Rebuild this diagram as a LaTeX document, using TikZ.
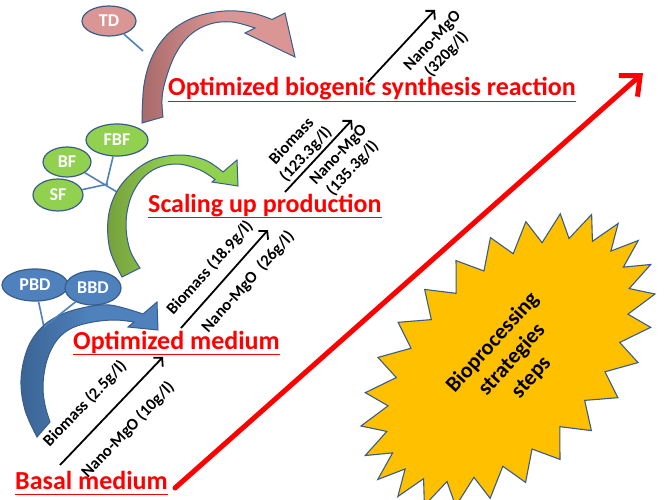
\documentclass[tikz,border=0pt]{standalone}
\usepackage{fontspec}
\setmainfont{Carlito}
\usetikzlibrary{shapes.geometric,arrows.meta}
\definecolor{pinkL}{HTML}{D99694}
\definecolor{pinkD}{HTML}{A86A6A}
\definecolor{greenL}{HTML}{92D050}
\definecolor{greenD}{HTML}{76A03C}
\definecolor{blueL}{HTML}{4F81BD}
\definecolor{blueD}{HTML}{3A6494}
\definecolor{edgeblue}{HTML}{385D8A}
\definecolor{starY}{HTML}{FFC000}
\definecolor{redT}{HTML}{FF0000}
\begin{document}
\begin{tikzpicture}[x=1pt,y=-1pt,
  bubble/.style={ellipse, draw=edgeblue, line width=1.2pt, inner sep=0pt, text=white, font=\fontsize{18}{20}\selectfont\bfseries},
  stem/.style={draw=blueL, line width=1.6pt},
  curvedarrow/.style={draw=edgeblue, line width=1pt, line join=miter},
  steptitle/.style={text=redT, inner sep=0pt, font=\fontsize{26}{30}\selectfont\bfseries, anchor=base west},
  uline/.style={draw=redT, line width=1.8pt},
  growth/.style={draw=black, line width=1.8pt, -{Straight Barb[length=6pt,width=13pt,line width=1.8pt]}},
  qty/.style={font=\fontsize{16.5}{19.5}\selectfont\bfseries, align=center, inner sep=0pt},
]
\useasboundingbox[fill=white] (0,0) rectangle (666,500);

% junction coordinates
\coordinate (tdj) at (143,51);
\coordinate (fj1) at (106,186);
\coordinate (fj2) at (117,192);
\coordinate (fj3) at (108,184);
\coordinate (bj) at (44,327);

% ellipse nodes (positions)
\path node[bubble, fill=pinkL, minimum width=54pt, minimum height=30pt] (td) at (109,21) {TD};
\path node[bubble, fill=greenL, minimum width=62pt, minimum height=32pt] (fbf) at (117,140) {FBF};
\path node[bubble, fill=greenL, minimum width=48pt, minimum height=30pt] (bf) at (67,162) {BF};
\path node[bubble, fill=greenL, minimum width=50pt, minimum height=32pt] (sf) at (58,195) {SF};
\path node[bubble, fill=blueL, minimum width=66pt, minimum height=32pt] (pbd) at (35,285) {PBD};

% stems
\draw[stem] (td) -- (tdj);
\draw[stem] (fbf) -- (fj1);
\draw[stem] (bf) -- (fj2);
\draw[stem] (sf) -- (fj3);
\draw[stem] (pbd) -- (bj);

% pink curved arrow
\draw[curvedarrow, left color=pinkD, right color=pinkL, middle color=pinkL]
  (142,123) -- plot[smooth, tension=0.6] coordinates {(142,123) (144,85) (153,55) (170,32) (195,17) (225,11) (252,13) (272,19.5)}
  -- (285,13) -- (295,57) -- (245,33)
  -- plot[smooth, tension=0.6] coordinates {(255,28) (232,22) (210,24) (190,35) (175,55) (165,82) (162,100) (163,117)}
  -- cycle;

% green curved arrow
\draw[curvedarrow, left color=greenD, right color=greenL, middle color=greenL]
  (122,277) -- plot[smooth, tension=0.6] coordinates {(122,277) (110,250) (108,220) (115,195) (130,175) (152,160) (180,155) (205,160) (223,172)}
  -- (237,160) -- (238,186) -- (212,182)
  -- plot[smooth, tension=0.6] coordinates {(215,179.5) (200,170) (178,164) (157,168) (141,180) (130,200) (126,225) (130,250) (140,268)}
  -- cycle;

% blue curved arrow
\draw[curvedarrow, left color=blueD, right color=blueL, middle color=blueL]
  (37,437) -- plot[smooth, tension=0.6] coordinates {(37,437) (25,410) (21,380) (27,350) (40,329) (58,316) (82,308) (110,305) (143,314)}
  -- (157,302) -- (158,330) -- (128,327)
  -- plot[smooth, tension=0.6] coordinates {(134,322) (115,320) (93,322) (72,328) (57,340) (47,360) (43,385) (45,405) (50,422)}
  -- cycle;

% ellipse on top
\path node[bubble, fill=blueL, minimum width=56pt, minimum height=34pt] (bbd) at (93,288) {BBD};
\draw[stem] (bbd) -- (bj);

% titles
\node[steptitle] (t1) at (168,96) {Optimized biogenic synthesis reaction};
\node[steptitle] (t2) at (148,212) {Scaling up production};
\node[steptitle] (t3) at (73,349) {Optimized medium};
\node[steptitle] (t4) at (15,489) {Basal medium};
\foreach \t in {t1,t2,t3,t4}
  \draw[uline] ([yshift=-5.5pt]\t.base west) -- ([yshift=-5.5pt]\t.base east);

% growth arrows
\coordinate (a1s) at (60,465);  \coordinate (a1e) at (163,357);
\coordinate (a2s) at (181,328); \coordinate (a2e) at (268,230);
\coordinate (a3s) at (285,192); \coordinate (a3e) at (352,120);
\coordinate (a4s) at (368,82);  \coordinate (a4e) at (435,10);
\draw[growth] (a1s) -- (a1e);
\draw[growth] (a2s) -- (a2e);
\draw[growth] (a3s) -- (a3e);
\draw[growth] (a4s) -- (a4e);

\node[qty, rotate=46] (l1a) at (85,404) {Biomass (2.5g/l)};
\node[qty, rotate=46] (l1b) at (128,430) {Nano-MgO (10g/l)};
\node[qty, rotate=48] (l2a) at (210,268) {Biomass (18.9g/l)};
\node[qty, rotate=48] (l2b) at (248,282) {Nano-MgO\ \ (26g/l)};
\node[qty, rotate=47] (l3a) at (299,148) {Biomass\\(123.3g/l)};
\node[qty, rotate=47] (l3b) at (346,162) {Nano-MgO\\(135.3g/l)};
\node[qty, rotate=47] (l4) at (440,48) {Nano-MgO\\(320g/l)};

% big red arrow
\coordinate (rs) at (175,488);
\coordinate (re) at (643,73);
\draw[draw=redT, line width=5pt, line cap=round, -{Straight Barb[length=16pt,width=28pt,line width=5pt]}] (rs) -- (re);

% starburst
\foreach \k in {0,...,51}{
  \pgfmathsetmacro{\ra}{177-27*mod(\k,2)}
  \pgfmathsetmacro{\rb}{109-25*mod(\k,2)}
  \pgfmathsetmacro{\ang}{\k/52*360+4}
  \coordinate (s\k) at ({508+0.7071*(\ra*cos(\ang)+\rb*sin(\ang))}, {360+0.7071*(-\ra*cos(\ang)+\rb*sin(\ang))});
}
\draw[draw=edgeblue, line width=1.1pt, fill=starY, line join=miter]
  (s0) \foreach \k in {1,...,51}{ -- (s\k) } -- cycle;
\node[align=center, rotate=48, inner sep=0pt, font=\fontsize{22}{26}\selectfont\bfseries] (burst) at (512,360) {Bioprocessing\\strategies\\steps};

\end{tikzpicture}
\end{document}
